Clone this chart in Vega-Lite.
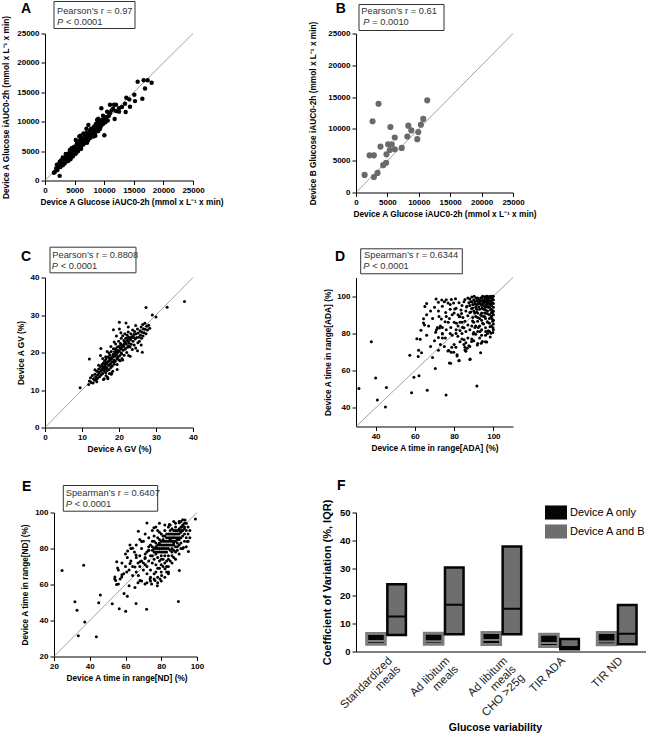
{
"$schema":"https://vega.github.io/schema/vega-lite/v6.json",
"background":"white",
"padding":{"left":1,"top":0.5,"right":0,"bottom":0},
"autosize":{"type":"pad"},
"columns":2,
"bounds":"flush",
"align":"each",
"spacing":{"row":85,"column":159},
"resolve":{"scale":{"fill":"independent","stroke":"independent"},"legend":{"fill":"independent","stroke":"independent"}},
"datasets":{
"A":[{"x":1500,"y":1300},{"x":1700,"y":1500},{"x":1900,"y":2100},{"x":2100,"y":1800},{"x":2300,"y":2500},{"x":2477,"y":788},{"x":2500,"y":3200},{"x":2600,"y":2300},{"x":2800,"y":2700},{"x":2900,"y":3300},{"x":3000,"y":2600},{"x":3100,"y":3000},{"x":3200,"y":3500},{"x":3300,"y":2900},{"x":3400,"y":3800},{"x":3500,"y":3200},{"x":3600,"y":3400},{"x":3700,"y":4200},{"x":3800,"y":3600},{"x":3900,"y":3300},{"x":4000,"y":4100},{"x":4000,"y":4600},{"x":4100,"y":3800},{"x":4200,"y":4400},{"x":4300,"y":3900},{"x":4400,"y":4800},{"x":4500,"y":4200},{"x":4500,"y":5500},{"x":4600,"y":4500},{"x":4700,"y":4100},{"x":4800,"y":5000},{"x":4900,"y":4600},{"x":5000,"y":5300},{"x":5000,"y":4800},{"x":5100,"y":5800},{"x":5200,"y":5000},{"x":5300,"y":4700},{"x":5400,"y":5600},{"x":5500,"y":5200},{"x":5500,"y":6200},{"x":5600,"y":5900},{"x":5700,"y":5400},{"x":5800,"y":7500},{"x":5800,"y":6000},{"x":5900,"y":5500},{"x":6000,"y":6400},{"x":6000,"y":5800},{"x":6100,"y":6800},{"x":6200,"y":6000},{"x":6300,"y":6500},{"x":6400,"y":6100},{"x":6400,"y":7000},{"x":6500,"y":6700},{"x":6600,"y":6300},{"x":6700,"y":7200},{"x":6800,"y":6600},{"x":6900,"y":7000},{"x":7000,"y":7500},{"x":7000,"y":6700},{"x":7100,"y":7100},{"x":7200,"y":7800},{"x":7300,"y":6900},{"x":7400,"y":7400},{"x":7500,"y":7200},{"x":7500,"y":8000},{"x":7600,"y":7700},{"x":7700,"y":7300},{"x":7800,"y":8200},{"x":7900,"y":7600},{"x":8000,"y":8500},{"x":8000,"y":7800},{"x":8100,"y":8000},{"x":8200,"y":8700},{"x":8300,"y":8100},{"x":8400,"y":8400},{"x":8500,"y":9000},{"x":8600,"y":8300},{"x":8700,"y":8800},{"x":8800,"y":9400},{"x":8900,"y":8700},{"x":9000,"y":9100},{"x":9100,"y":9700},{"x":9200,"y":9000},{"x":9300,"y":9500},{"x":9500,"y":9300},{"x":9516,"y":12275},{"x":7320,"y":9459},{"x":10023,"y":7714},{"x":9600,"y":10000},{"x":9800,"y":9600},{"x":10000,"y":10300},{"x":10200,"y":9900},{"x":10400,"y":10800},{"x":10600,"y":10200},{"x":10800,"y":11000},{"x":10980,"y":12894},{"x":11000,"y":11500},{"x":11261,"y":11937},{"x":11655,"y":12894},{"x":11768,"y":10473},{"x":12000,"y":11800},{"x":12500,"y":11712},{"x":12500,"y":12300},{"x":13000,"y":12500},{"x":13514,"y":13063},{"x":13626,"y":11655},{"x":13739,"y":14077},{"x":14245,"y":13795},{"x":14358,"y":12556},{"x":15090,"y":14583},{"x":15200,"y":13500},{"x":15653,"y":16779},{"x":16441,"y":13908},{"x":16667,"y":17060},{"x":16892,"y":15653},{"x":17342,"y":17060},{"x":18018,"y":16610},{"x":3500,"y":4500},{"x":2000,"y":2700},{"x":6500,"y":8000},{"x":5200,"y":6900},{"x":8500,"y":7600},{"x":9000,"y":10500},{"x":4200,"y":5200},{"x":7000,"y":8800},{"x":6000,"y":7600},{"x":9800,"y":11000},{"x":8800,"y":10300},{"x":10500,"y":11700},{"x":11500,"y":12200},{"x":12000,"y":12900},{"x":9000,"y":8400},{"x":5600,"y":5000},{"x":3000,"y":3900},{"x":2700,"y":3400},{"x":3800,"y":4400},{"x":4600,"y":5100},{"x":5400,"y":6300},{"x":6200,"y":7200},{"x":7000,"y":8100},{"x":7800,"y":8800},{"x":8600,"y":9600},{"x":6800,"y":7700},{"x":5800,"y":6700},{"x":4900,"y":5700},{"x":7600,"y":8500},{"x":8300,"y":9200},{"x":9400,"y":10200},{"x":9300,"y":8800},{"x":8200,"y":7500},{"x":7100,"y":6400},{"x":6100,"y":5400},{"x":5100,"y":4500},{"x":4300,"y":3600},{"x":2200,"y":2200},{"x":2400,"y":2900},{"x":2600,"y":2800},{"x":3300,"y":3400},{"x":3600,"y":3900},{"x":3700,"y":3500},{"x":4100,"y":4300},{"x":4400,"y":4300},{"x":4700,"y":4800},{"x":4800,"y":5400},{"x":5100,"y":5200},{"x":5300,"y":5500},{"x":5600,"y":5600},{"x":5700,"y":6100},{"x":6000,"y":6100},{"x":6200,"y":6500},{"x":6300,"y":6100},{"x":6500,"y":6400},{"x":6600,"y":7000},{"x":6900,"y":7400},{"x":7100,"y":7600},{"x":7200,"y":7200},{"x":7400,"y":7900},{"x":7700,"y":7900},{"x":7900,"y":8300},{"x":8100,"y":8400},{"x":8300,"y":8700},{"x":8500,"y":8500},{"x":8700,"y":9200},{"x":9000,"y":9500},{"x":9200,"y":9800},{"x":9400,"y":9700},{"x":9700,"y":10300},{"x":10100,"y":10600},{"x":10300,"y":10200},{"x":3400,"y":3400},{"x":3900,"y":4000},{"x":4300,"y":4600},{"x":5500,"y":5700},{"x":6700,"y":6800},{"x":7300,"y":7300},{"x":8900,"y":9000}],
"B":[{"x":1371,"y":2760},{"x":2162,"y":5839},{"x":2848,"y":5839},{"x":2637,"y":11200},{"x":3586,"y":13960},{"x":2848,"y":2442},{"x":3428,"y":3079},{"x":3903,"y":7219},{"x":4325,"y":4299},{"x":4800,"y":4671},{"x":4852,"y":5998},{"x":5116,"y":7590},{"x":5485,"y":10297},{"x":5380,"y":6688},{"x":5696,"y":7590},{"x":6171,"y":8652},{"x":6171,"y":6794},{"x":7278,"y":7006},{"x":8175,"y":8811},{"x":8333,"y":10509},{"x":8808,"y":9767},{"x":9757,"y":8386},{"x":9916,"y":9501},{"x":10338,"y":10669},{"x":10707,"y":11571},{"x":11340,"y":14490}],
"C":[{"x":9.5,"y":10.6},{"x":12.0,"y":18.3},{"x":37.7,"y":33.6},{"x":33.0,"y":32.1},{"x":27.3,"y":32.0},{"x":30.0,"y":29.5},{"x":29.0,"y":30.0},{"x":20.1,"y":28.1},{"x":21.9,"y":27.9},{"x":18.5,"y":26.1},{"x":20.1,"y":26.3},{"x":26.3,"y":20.1},{"x":15.1,"y":21.1},{"x":15.0,"y":19.2},{"x":17.9,"y":14.2},{"x":11.8,"y":11.5},{"x":12.0,"y":12.4},{"x":12.3,"y":13.3},{"x":12.5,"y":12.0},{"x":12.8,"y":13.9},{"x":13.0,"y":11.9},{"x":13.1,"y":13.0},{"x":13.4,"y":12.6},{"x":13.5,"y":14.2},{"x":13.7,"y":13.5},{"x":13.9,"y":12.9},{"x":14.0,"y":15.0},{"x":14.2,"y":14.0},{"x":14.3,"y":13.2},{"x":14.5,"y":15.6},{"x":14.6,"y":14.5},{"x":14.8,"y":13.6},{"x":15.0,"y":16.2},{"x":15.1,"y":15.0},{"x":15.2,"y":14.1},{"x":15.4,"y":16.8},{"x":15.5,"y":15.5},{"x":15.6,"y":14.4},{"x":15.8,"y":17.2},{"x":15.9,"y":16.0},{"x":16.0,"y":15.1},{"x":16.0,"y":13.0},{"x":16.1,"y":17.8},{"x":16.2,"y":16.5},{"x":16.3,"y":15.6},{"x":16.4,"y":14.6},{"x":16.5,"y":18.3},{"x":16.6,"y":17.1},{"x":16.7,"y":16.0},{"x":16.8,"y":15.2},{"x":16.9,"y":13.4},{"x":17.0,"y":18.8},{"x":17.1,"y":17.6},{"x":17.2,"y":16.6},{"x":17.3,"y":15.5},{"x":17.4,"y":14.4},{"x":17.5,"y":19.3},{"x":17.6,"y":18.1},{"x":17.7,"y":17.0},{"x":17.8,"y":16.0},{"x":17.9,"y":20.3},{"x":18.0,"y":18.6},{"x":18.1,"y":17.5},{"x":18.2,"y":16.4},{"x":18.3,"y":15.0},{"x":18.4,"y":19.5},{"x":18.5,"y":21.0},{"x":18.6,"y":18.0},{"x":18.7,"y":16.9},{"x":18.8,"y":20.2},{"x":18.9,"y":19.0},{"x":19.0,"y":17.7},{"x":19.1,"y":22.3},{"x":19.2,"y":20.8},{"x":19.3,"y":19.4},{"x":19.4,"y":18.3},{"x":19.5,"y":16.8},{"x":19.6,"y":21.5},{"x":19.7,"y":20.1},{"x":19.8,"y":18.9},{"x":19.9,"y":23.0},{"x":20.0,"y":21.6},{"x":20.1,"y":20.4},{"x":20.2,"y":19.2},{"x":20.3,"y":17.8},{"x":20.4,"y":22.4},{"x":20.5,"y":21.0},{"x":20.6,"y":23.8},{"x":20.7,"y":19.7},{"x":20.8,"y":18.4},{"x":20.9,"y":22.0},{"x":21.0,"y":24.5},{"x":21.1,"y":20.6},{"x":21.2,"y":21.7},{"x":21.3,"y":23.2},{"x":21.4,"y":19.3},{"x":21.5,"y":22.5},{"x":21.6,"y":25.0},{"x":21.7,"y":21.1},{"x":21.8,"y":23.8},{"x":22.0,"y":22.3},{"x":22.1,"y":20.0},{"x":22.2,"y":24.6},{"x":22.3,"y":21.4},{"x":22.4,"y":23.1},{"x":22.5,"y":25.5},{"x":22.6,"y":19.2},{"x":22.7,"y":22.6},{"x":22.8,"y":24.0},{"x":23.0,"y":21.5},{"x":23.1,"y":23.4},{"x":23.2,"y":25.0},{"x":23.3,"y":22.2},{"x":23.5,"y":24.3},{"x":23.6,"y":20.8},{"x":23.7,"y":26.0},{"x":23.8,"y":23.0},{"x":24.0,"y":24.8},{"x":24.1,"y":22.0},{"x":24.2,"y":25.6},{"x":24.4,"y":23.6},{"x":24.5,"y":21.2},{"x":24.6,"y":25.0},{"x":24.8,"y":24.0},{"x":25.0,"y":26.3},{"x":25.1,"y":22.6},{"x":25.2,"y":25.2},{"x":25.4,"y":24.1},{"x":25.5,"y":23.0},{"x":25.7,"y":25.8},{"x":25.8,"y":24.6},{"x":26.0,"y":26.8},{"x":26.1,"y":23.8},{"x":26.2,"y":25.4},{"x":26.4,"y":27.5},{"x":26.5,"y":24.4},{"x":26.6,"y":26.3},{"x":26.8,"y":25.3},{"x":27.0,"y":27.8},{"x":27.1,"y":26.2},{"x":27.3,"y":25.0},{"x":27.5,"y":27.0},{"x":27.7,"y":26.0},{"x":28.0,"y":27.3},{"x":28.3,"y":26.5},{"x":16.4,"y":18.9},{"x":17.3,"y":19.9},{"x":19.0,"y":21.0},{"x":20.0,"y":18.0},{"x":18.0,"y":14.5},{"x":17.0,"y":13.0},{"x":16.5,"y":13.8},{"x":15.8,"y":12.8},{"x":14.0,"y":12.2},{"x":19.5,"y":15.5},{"x":21.0,"y":18.0},{"x":23.0,"y":19.0},{"x":25.0,"y":20.5},{"x":24.5,"y":27.2},{"x":22.5,"y":26.8},{"x":18.7,"y":22.8},{"x":17.8,"y":21.6},{"x":16.8,"y":20.3},{"x":15.6,"y":18.4},{"x":14.5,"y":16.6},{"x":13.5,"y":15.4},{"x":20.5,"y":25.3},{"x":19.3,"y":24.4},{"x":26.0,"y":22.0},{"x":14.5,"y":14.8},{"x":15.2,"y":15.5},{"x":15.8,"y":15.8},{"x":16.3,"y":16.9},{"x":16.9,"y":17.4},{"x":17.4,"y":17.9},{"x":17.9,"y":18.3},{"x":18.3,"y":18.9},{"x":18.8,"y":19.4},{"x":19.2,"y":19.9},{"x":19.8,"y":20.5},{"x":20.3,"y":21.2},{"x":20.8,"y":21.5},{"x":21.3,"y":22.1},{"x":21.8,"y":22.6},{"x":22.3,"y":23.3},{"x":22.9,"y":23.8},{"x":23.4,"y":24.0},{"x":24.0,"y":24.0},{"x":16.6,"y":15.9},{"x":17.6,"y":16.6},{"x":18.6,"y":17.4},{"x":19.6,"y":18.6},{"x":20.6,"y":19.9},{"x":21.6,"y":20.9},{"x":22.6,"y":21.8},{"x":15.5,"y":16.5},{"x":16.5,"y":17.5},{"x":17.5,"y":18.5},{"x":18.5,"y":19.5},{"x":19.5,"y":20.5},{"x":20.5,"y":22.0},{"x":21.5,"y":23.0},{"x":22.5,"y":24.0}],
"D":[{"x":31.5,"y":50.4},{"x":37.8,"y":75.5},{"x":40.0,"y":56.0},{"x":40.9,"y":44.2},{"x":45.0,"y":40.5},{"x":45.5,"y":50.9},{"x":57.4,"y":68.3},{"x":59.5,"y":56.5},{"x":58.3,"y":48.1},{"x":62.1,"y":57.2},{"x":61.7,"y":67.6},{"x":63.4,"y":69.6},{"x":61.0,"y":77.1},{"x":62.7,"y":76.8},{"x":63.1,"y":81.7},{"x":64.4,"y":85.6},{"x":64.4,"y":87.9},{"x":65.1,"y":94.4},{"x":66.3,"y":49.5},{"x":70.4,"y":61.1},{"x":72.0,"y":71.0},{"x":70.8,"y":98.4},{"x":72.0,"y":96.7},{"x":73.7,"y":97.9},{"x":75.9,"y":46.9},{"x":91.6,"y":51.8},{"x":77.6,"y":64.1},{"x":76.8,"y":70.6},{"x":78.5,"y":69.9},{"x":81.5,"y":68.5},{"x":82.4,"y":65.3},{"x":88.2,"y":66.2},{"x":85.5,"y":71.1},{"x":86.7,"y":72.0},{"x":87.5,"y":73.3},{"x":93.5,"y":69.6},{"x":95.9,"y":75.5},{"x":93.8,"y":74.7},{"x":91.8,"y":73.8},{"x":64.9,"y":84.5},{"x":61.9,"y":71.0},{"x":72.3,"y":89.1},{"x":71.5,"y":83.1},{"x":70.6,"y":80.6},{"x":72.5,"y":82.9},{"x":73.5,"y":87.7},{"x":74.0,"y":83.1},{"x":72.0,"y":77.8},{"x":74.0,"y":77.5},{"x":75.4,"y":86.3},{"x":75.7,"y":91.2},{"x":76.9,"y":96.3},{"x":77.6,"y":88.0},{"x":78.3,"y":83.1},{"x":78.6,"y":98.2},{"x":79.7,"y":96.3},{"x":80.3,"y":93.1},{"x":80.7,"y":98.6},{"x":77.3,"y":70.8},{"x":79.8,"y":69.9},{"x":78.2,"y":63.9},{"x":74.0,"y":79.6},{"x":75.5,"y":77.5},{"x":81.5,"y":67.8},{"x":82.6,"y":65.5},{"x":80.9,"y":72.6},{"x":78.8,"y":72.6},{"x":81.9,"y":78.4},{"x":81.2,"y":85.4},{"x":82.6,"y":88.9},{"x":83.8,"y":90.7},{"x":84.3,"y":83.1},{"x":85.1,"y":76.6},{"x":85.5,"y":72.6},{"x":86.0,"y":70.4},{"x":88.0,"y":66.0},{"x":88.9,"y":75.7},{"x":89.7,"y":79.6},{"x":90.6,"y":83.1},{"x":89.4,"y":86.6},{"x":88.0,"y":91.2},{"x":86.3,"y":94.2},{"x":85.5,"y":98.2},{"x":88.9,"y":93.3},{"x":94.4,"y":75.7},{"x":96.6,"y":75.4},{"x":96.1,"y":81.0},{"x":97.4,"y":81.4},{"x":98.8,"y":80.1},{"x":98.3,"y":83.6},{"x":93.2,"y":81.0},{"x":92.3,"y":83.1},{"x":94.5,"y":85.4},{"x":96.9,"y":86.3},{"x":99.3,"y":88.0},{"x":99.7,"y":91.5},{"x":95.7,"y":88.9},{"x":88,"y":95},{"x":89,"y":97},{"x":90,"y":92},{"x":90,"y":98},{"x":91,"y":94},{"x":91,"y":89},{"x":92,"y":96},{"x":92,"y":99},{"x":92,"y":91},{"x":93,"y":93},{"x":93,"y":97},{"x":93,"y":88},{"x":94,"y":95},{"x":94,"y":99},{"x":94,"y":91},{"x":95,"y":96},{"x":95,"y":93},{"x":95,"y":98},{"x":95,"y":89},{"x":96,"y":94},{"x":96,"y":97},{"x":96,"y":99},{"x":96,"y":91},{"x":97,"y":95},{"x":97,"y":98},{"x":97,"y":92},{"x":97,"y":100},{"x":98,"y":96},{"x":98,"y":94},{"x":98,"y":99},{"x":98,"y":90},{"x":99,"y":97},{"x":99,"y":95},{"x":99,"y":99},{"x":99,"y":93},{"x":100,"y":100},{"x":100,"y":98},{"x":100,"y":96},{"x":100,"y":94},{"x":100,"y":92},{"x":100,"y":90},{"x":100,"y":87},{"x":100,"y":85},{"x":100,"y":82},{"x":99.5,"y":100},{"x":98.5,"y":100},{"x":97.5,"y":99.5},{"x":96.5,"y":100},{"x":95.5,"y":99.6},{"x":94.5,"y":97.2},{"x":93.5,"y":95.8},{"x":92.5,"y":94.3},{"x":91.5,"y":97.5},{"x":90.5,"y":95.6},{"x":89.5,"y":93.6},{"x":88.5,"y":91.5},{"x":87.5,"y":96.5},{"x":86.5,"y":94.6},{"x":87,"y":89.5},{"x":86,"y":92},{"x":85,"y":97},{"x":84,"y":95},{"x":85.5,"y":86.5},{"x":84.5,"y":88.5},{"x":83.5,"y":92.5},{"x":82.5,"y":96.5},{"x":83,"y":86},{"x":82,"y":90},{"x":81,"y":93.5},{"x":90,"y":86},{"x":91,"y":84},{"x":92,"y":86.5},{"x":93,"y":84},{"x":94,"y":87},{"x":95,"y":85},{"x":96,"y":88},{"x":97,"y":86},{"x":98,"y":85.5},{"x":99,"y":89},{"x":89,"y":84},{"x":88,"y":82},{"x":87,"y":84.5},{"x":86,"y":81},{"x":85,"y":83},{"x":84,"y":80},{"x":83,"y":81.5},{"x":90,"y":80.5},{"x":92,"y":81},{"x":94,"y":82},{"x":96,"y":83},{"x":97,"y":80},{"x":98,"y":81},{"x":99,"y":84},{"x":89.5,"y":88.5},{"x":91.5,"y":91.5},{"x":93.5,"y":90},{"x":95.5,"y":91},{"x":97.5,"y":94},{"x":98.5,"y":92.5},{"x":99.5,"y":91.5},{"x":96.8,"y":96.3},{"x":97.2,"y":97.6},{"x":95.2,"y":97},{"x":94.2,"y":93.5},{"x":92.8,"y":97.8},{"x":91.2,"y":99},{"x":90.2,"y":100},{"x":89,"y":99.5},{"x":88,"y":98.5},{"x":87,"y":99},{"x":99.6,"y":86.5},{"x":99.8,"y":83},{"x":99.7,"y":80.5},{"x":98.4,"y":78},{"x":96,"y":79},{"x":94,"y":79},{"x":93,"y":77.5},{"x":92,"y":74.5},{"x":90,"y":76},{"x":89,"y":77},{"x":91,"y":79.5},{"x":88,"y":73},{"x":87,"y":77.5},{"x":86,"y":75},{"x":85,"y":74},{"x":84,"y":77},{"x":83,"y":75.5},{"x":80,"y":74},{"x":79,"y":79},{"x":81,"y":82},{"x":80,"y":86},{"x":79,"y":90},{"x":78,"y":93},{"x":77,"y":86},{"x":76,"y":82},{"x":82,"y":84},{"x":81,"y":80},{"x":78,"y":80},{"x":76,"y":89},{"x":84,"y":86},{"x":83,"y":89},{"x":80,"y":91},{"x":78,"y":95.5},{"x":75,"y":97},{"x":74,"y":94.5},{"x":76,"y":98},{"x":71,"y":82},{"x":69,"y":88},{"x":68,"y":92},{"x":67,"y":84},{"x":66,"y":79},{"x":68,"y":73},{"x":70,"y":76},{"x":73,"y":84},{"x":74,"y":80},{"x":73,"y":74},{"x":75,"y":73},{"x":69,"y":67},{"x":66,"y":96},{"x":70,"y":94},{"x":72,"y":92},{"x":66,"y":90},{"x":90.5,"y":97},{"x":91.5,"y":95.5},{"x":92.5,"y":98},{"x":93.5,"y":99},{"x":94.5,"y":96},{"x":95.5,"y":94.5},{"x":96.5,"y":95.5},{"x":97.5,"y":96.5},{"x":98.5,"y":97.5},{"x":99.5,"y":98.5},{"x":99.5,"y":96.5},{"x":98.5,"y":95.5},{"x":97.5,"y":97.5},{"x":96.5,"y":98.5},{"x":95.5,"y":97.5},{"x":94.5,"y":100},{"x":93.5,"y":97.5},{"x":92.5,"y":96},{"x":91.5,"y":93},{"x":90.5,"y":91},{"x":89.5,"y":95.5},{"x":88.5,"y":97},{"x":97,"y":90.5},{"x":98,"y":88},{"x":99,"y":91},{"x":96,"y":92.5},{"x":94,"y":89.5},{"x":92,"y":88.5}],
"E":[{"x":24.5,"y":67.8},{"x":36.6,"y":70.7},{"x":31.7,"y":50.4},{"x":32.9,"y":45.7},{"x":37.2,"y":39.1},{"x":33.6,"y":31.5},{"x":43.7,"y":31.0},{"x":45.9,"y":54.2},{"x":45.0,"y":49.9},{"x":52.6,"y":49.3},{"x":56.5,"y":46.5},{"x":60.1,"y":45.2},{"x":59.2,"y":55.0},{"x":61.0,"y":53.5},{"x":65.9,"y":49.5},{"x":71.8,"y":46.3},{"x":89.6,"y":50.6},{"x":90.1,"y":67.8},{"x":99.1,"y":96.4},{"x":72.0,"y":94.1},{"x":95.2,"y":78.3},{"x":67.2,"y":89.6},{"x":54.1,"y":64.1},{"x":55.1,"y":72.6},{"x":62.5,"y":82.0},{"x":64.0,"y":80.1},{"x":75.9,"y":91.5},{"x":84.5,"y":93.4},{"x":90.1,"y":94.3},{"x":93.3,"y":95.8},{"x":91.4,"y":91.9},{"x":92.4,"y":80.5},{"x":94.6,"y":83.9},{"x":61.2,"y":78.6},{"x":65.9,"y":76.4},{"x":69.0,"y":83.9},{"x":70.9,"y":74.5},{"x":68.1,"y":72.6},{"x":65.3,"y":69.7},{"x":62.5,"y":71.6},{"x":60.7,"y":66.9},{"x":58.0,"y":65.4},{"x":55.6,"y":69.2},{"x":54.5,"y":62.2},{"x":56.0,"y":60.3},{"x":57.9,"y":64.1},{"x":62.0,"y":59.3},{"x":65.3,"y":58.4},{"x":67.2,"y":65.0},{"x":68.1,"y":62.2},{"x":70.9,"y":60.3},{"x":73.7,"y":63.1},{"x":74.6,"y":60.3},{"x":76.5,"y":62.2},{"x":79.3,"y":63.1},{"x":77.8,"y":59.3},{"x":80.2,"y":65.0},{"x":82.1,"y":68.8},{"x":84.0,"y":66.9},{"x":70,"y":72},{"x":71,"y":75},{"x":72,"y":70},{"x":72,"y":78},{"x":73,"y":73},{"x":73,"y":81},{"x":74,"y":76},{"x":74,"y":68},{"x":75,"y":79},{"x":75,"y":72},{"x":75,"y":84},{"x":76,"y":74},{"x":76,"y":80},{"x":76,"y":87},{"x":77,"y":77},{"x":77,"y":71},{"x":77,"y":83},{"x":78,"y":75},{"x":78,"y":80},{"x":78,"y":86},{"x":78,"y":69},{"x":79,"y":78},{"x":79,"y":82},{"x":79,"y":73},{"x":79,"y":89},{"x":80,"y":76},{"x":80,"y":80},{"x":80,"y":84},{"x":80,"y":71},{"x":81,"y":78},{"x":81,"y":82},{"x":81,"y":87},{"x":81,"y":74},{"x":82,"y":80},{"x":82,"y":84},{"x":82,"y":76},{"x":82,"y":90},{"x":83,"y":78},{"x":83,"y":82},{"x":83,"y":86},{"x":83,"y":73},{"x":84,"y":80},{"x":84,"y":84},{"x":84,"y":88},{"x":84,"y":76},{"x":85,"y":82},{"x":85,"y":86},{"x":85,"y":79},{"x":85,"y":90},{"x":86,"y":80},{"x":86,"y":84},{"x":86,"y":88},{"x":86,"y":76},{"x":87,"y":82},{"x":87,"y":86},{"x":87,"y":90},{"x":87,"y":79},{"x":88,"y":84},{"x":88,"y":88},{"x":88,"y":81},{"x":88,"y":92},{"x":89,"y":86},{"x":89,"y":90},{"x":89,"y":83},{"x":90,"y":88},{"x":90,"y":91},{"x":90,"y":85},{"x":91,"y":89},{"x":91,"y":92},{"x":91,"y":86},{"x":92,"y":90},{"x":92,"y":93},{"x":92,"y":87},{"x":93,"y":91},{"x":93,"y":88},{"x":93,"y":94},{"x":94,"y":90},{"x":94,"y":86},{"x":95,"y":92},{"x":95,"y":88},{"x":84,"y":70},{"x":86,"y":72},{"x":88,"y":74},{"x":90,"y":77},{"x":92,"y":80},{"x":83,"y":67},{"x":80,"y":67},{"x":78,"y":64},{"x":76,"y":66},{"x":74,"y":64},{"x":72,"y":66},{"x":70,"y":68},{"x":68,"y":70},{"x":68,"y":76},{"x":69,"y":80},{"x":70,"y":84},{"x":71,"y":88},{"x":73,"y":86},{"x":75,"y":90},{"x":77,"y":92},{"x":79,"y":94},{"x":82,"y":93},{"x":85,"y":93},{"x":87,"y":95},{"x":74,"y":82},{"x":76,"y":84},{"x":78,"y":90},{"x":80,"y":88},{"x":82,"y":87},{"x":79,"y":85},{"x":77,"y":80},{"x":75,"y":76},{"x":73,"y":79},{"x":71,"y":71},{"x":80,"y":74},{"x":82,"y":72},{"x":84,"y":74},{"x":86,"y":78},{"x":88,"y":78},{"x":90,"y":82},{"x":91,"y":80},{"x":89,"y":79},{"x":87,"y":75},{"x":85,"y":73},{"x":83,"y":70},{"x":81,"y":70},{"x":79,"y":69},{"x":77,"y":67},{"x":84,"y":92},{"x":86,"y":91},{"x":88,"y":94},{"x":90,"y":95},{"x":92,"y":96},{"x":93,"y":92},{"x":94,"y":94},{"x":91,"y":95},{"x":96,"y":90},{"x":96,"y":86},{"x":94,"y":81},{"x":93,"y":84},{"x":95,"y":84},{"x":91,"y":83},{"x":89,"y":81},{"x":87,"y":83},{"x":85,"y":85},{"x":83,"y":84},{"x":81,"y":84},{"x":79,"y":80},{"x":77,"y":78},{"x":75,"y":81},{"x":73,"y":79},{"x":71,"y":77},{"x":69,"y":73},{"x":67,"y":72},{"x":66,"y":75},{"x":65,"y":78},{"x":64,"y":70},{"x":63,"y":73},{"x":62,"y":68},{"x":61,"y":75},{"x":60,"y":70},{"x":59,"y":66},{"x":58,"y":72},{"x":57,"y":63},{"x":56,"y":68},{"x":55,"y":60},{"x":54,"y":63},{"x":60,"y":77},{"x":63,"y":80},{"x":66,"y":82},{"x":68,"y":85},{"x":64,"y":65},{"x":66,"y":67},{"x":67,"y":61},{"x":69,"y":62},{"x":72,"y":61},{"x":74,"y":62},{"x":76,"y":63},{"x":78,"y":61},{"x":80,"y":62},{"x":82,"y":64},{"x":84,"y":66},{"x":76,"y":78},{"x":77,"y":81},{"x":78,"y":78},{"x":79,"y":83},{"x":80,"y":78},{"x":81,"y":80},{"x":82,"y":82},{"x":83,"y":80},{"x":84,"y":82},{"x":85,"y":84},{"x":86,"y":82},{"x":87,"y":88},{"x":88,"y":86},{"x":89,"y":88},{"x":90,"y":90},{"x":91,"y":90},{"x":80,"y":82},{"x":82,"y":78},{"x":84,"y":86},{"x":86,"y":86},{"x":88,"y":90},{"x":90,"y":86},{"x":78,"y":82},{"x":81,"y":85},{"x":83,"y":88},{"x":85,"y":88},{"x":87,"y":84},{"x":89,"y":85}],
"F":[{"cat":"Standardized|meals","grp":"Device A only","q1":2.6,"med":3.8,"q3":6.5},{"cat":"Standardized|meals","grp":"Device A and B","q1":5.9,"med":12.6,"q3":24.2},{"cat":"Ad libitum|meals","grp":"Device A only","q1":2.6,"med":3.7,"q3":6.6},{"cat":"Ad libitum|meals","grp":"Device A and B","q1":6.2,"med":16.8,"q3":30.2},{"cat":"Ad libitum|meals|CHO >25g","grp":"Device A only","q1":2.5,"med":4.1,"q3":6.8},{"cat":"Ad libitum|meals|CHO >25g","grp":"Device A and B","q1":6.2,"med":15.4,"q3":37.8},{"cat":"TIR ADA","grp":"Device A only","q1":1.8,"med":3.1,"q3":6.2},{"cat":"TIR ADA","grp":"Device A and B","q1":0.8,"med":1.6,"q3":4.5},{"cat":"TIR ND","grp":"Device A only","q1":2.4,"med":3.6,"q3":6.8},{"cat":"TIR ND","grp":"Device A and B","q1":2.6,"med":6.4,"q3":16.7}]
},
"concat":[
{"width":148,"height":147,
"layer":[
{"data":{"values":[{}]},"mark":{"type":"rule","color":"#8a8a8a","strokeWidth":0.8},"encoding":{"x":{"datum":0},"y":{"datum":0},"x2":{"datum":25000},"y2":{"datum":25000}}},
{"data":{"name":"A"},"mark":{"type":"circle","size":20,"color":"#000","opacity":1},"encoding":{"x":{"field":"x","type":"quantitative","scale":{"domain":[0,25000],"nice":false,"zero":false},"axis":{"values":[0,5000,10000,15000,20000,25000],"tickCount":20,"format":"d","labelOverlap":false,"title":"Device A Glucose iAUC0-2h (mmol x L⁻¹ x min)","titleX":86.5}},"y":{"field":"y","type":"quantitative","scale":{"domain":[0,25000],"nice":false,"zero":false},"axis":{"values":[0,5000,10000,15000,20000,25000],"tickCount":20,"format":"d","labelOverlap":false,"title":"Device A Glucose iAUC0-2h (mmol x L⁻¹ x min)","titleX":-38.5,"titleBaseline":"middle"}}}},
{"data":{"values":[{}]},"mark":{"type":"rect","fillOpacity":0,"stroke":"#333","strokeWidth":1},"encoding":{"x":{"datum":1520},"x2":{"datum":15203},"y":{"datum":30443},"y2":{"datum":25851}}},
{"data":{"values":[{}]},"mark":{"type":"text","text":"A","align":"left","baseline":"alphabetic","fontSize":14,"fontWeight":"bold","color":"#000"},"encoding":{"x":{"datum":-4054},"y":{"datum":28452}}},
{"data":{"values":[{}]},"mark":{"type":"text","text":"Pearson’s r = 0.97","align":"left","baseline":"alphabetic","fontSize":9.3,"color":"#333"},"encoding":{"x":{"datum":2027},"y":{"datum":28351}}},
{"data":{"values":[{}]},"mark":{"type":"text","text":"P","fontStyle":"italic","align":"left","baseline":"alphabetic","fontSize":9.3,"color":"#333"},"encoding":{"x":{"datum":2027},"y":{"datum":26480}}},
{"data":{"values":[{}]},"mark":{"type":"text","text":"< 0.0001","dx":9,"align":"left","baseline":"alphabetic","fontSize":9.3,"color":"#333"},"encoding":{"x":{"datum":2027},"y":{"datum":26480}}}
]},
{"width":157,"height":159,
"layer":[
{"data":{"values":[{}]},"mark":{"type":"rule","color":"#8a8a8a","strokeWidth":0.8},"encoding":{"x":{"datum":0},"y":{"datum":0},"x2":{"datum":25000},"y2":{"datum":25000}}},
{"data":{"name":"B"},"mark":{"type":"circle","size":38,"color":"#6a6a6a","opacity":1},"encoding":{"x":{"field":"x","type":"quantitative","scale":{"domain":[0,25000],"nice":false,"zero":false},"axis":{"values":[0,5000,10000,15000,20000,25000],"tickCount":20,"format":"d","labelOverlap":false,"title":"Device A Glucose iAUC0-2h (mmol x L⁻¹ x min)","titleX":88.5}},"y":{"field":"y","type":"quantitative","scale":{"domain":[0,25000],"nice":false,"zero":false},"axis":{"values":[0,5000,10000,15000,20000,25000],"tickCount":20,"format":"d","labelOverlap":false,"title":"Device B Glucose iAUC0-2h (mmol x L⁻¹ x min)","titleX":-43,"titleBaseline":"middle"}}}},
{"data":{"values":[{}]},"mark":{"type":"rect","fillOpacity":0,"stroke":"#333","strokeWidth":1},"encoding":{"x":{"datum":478},"x2":{"datum":14013},"y":{"datum":29559},"y2":{"datum":25471}}},
{"data":{"values":[{}]},"mark":{"type":"text","text":"B","align":"left","baseline":"alphabetic","fontSize":14,"fontWeight":"bold","color":"#000"},"encoding":{"x":{"datum":-3233},"y":{"datum":28191}}},
{"data":{"values":[{}]},"mark":{"type":"text","text":"Pearson’s r = 0.61","align":"left","baseline":"alphabetic","fontSize":9.3,"color":"#333"},"encoding":{"x":{"datum":844},"y":{"datum":28097}}},
{"data":{"values":[{}]},"mark":{"type":"text","text":"P","fontStyle":"italic","align":"left","baseline":"alphabetic","fontSize":9.3,"color":"#333"},"encoding":{"x":{"datum":1162},"y":{"datum":26367}}},
{"data":{"values":[{}]},"mark":{"type":"text","text":"= 0.0010","dx":9,"align":"left","baseline":"alphabetic","fontSize":9.3,"color":"#333"},"encoding":{"x":{"datum":1162},"y":{"datum":26367}}}
]},
{"width":148,"height":150,
"layer":[
{"data":{"values":[{}]},"mark":{"type":"rule","color":"#8a8a8a","strokeWidth":0.8},"encoding":{"x":{"datum":0},"y":{"datum":0},"x2":{"datum":40},"y2":{"datum":40}}},
{"data":{"name":"C"},"mark":{"type":"circle","size":9,"color":"#000","opacity":1},"encoding":{"x":{"field":"x","type":"quantitative","scale":{"domain":[0,40],"nice":false,"zero":false},"axis":{"values":[0,10,20,30,40],"tickCount":20,"labelOverlap":false,"title":"Device A GV (%)"}},"y":{"field":"y","type":"quantitative","scale":{"domain":[0,40],"nice":false,"zero":false},"axis":{"values":[0,10,20,30,40],"tickCount":20,"labelOverlap":false,"title":"Device A GV (%)","titleX":-23.5,"titleBaseline":"middle"}}}},
{"data":{"values":[{}]},"mark":{"type":"rect","fillOpacity":0,"stroke":"#333","strokeWidth":1},"encoding":{"x":{"datum":1.35},"x2":{"datum":24.59},"y":{"datum":48.08},"y2":{"datum":41.25}}},
{"data":{"values":[{}]},"mark":{"type":"text","text":"C","align":"left","baseline":"alphabetic","fontSize":14,"fontWeight":"bold","color":"#000"},"encoding":{"x":{"datum":-6.49},"y":{"datum":44.35}}},
{"data":{"values":[{}]},"mark":{"type":"text","text":"Pearson’s r = 0.8808","align":"left","baseline":"alphabetic","fontSize":9.3,"color":"#333"},"encoding":{"x":{"datum":1.97},"y":{"datum":45.25}}},
{"data":{"values":[{}]},"mark":{"type":"text","text":"P","fontStyle":"italic","align":"left","baseline":"alphabetic","fontSize":9.3,"color":"#333"},"encoding":{"x":{"datum":1.81},"y":{"datum":42.32}}},
{"data":{"values":[{}]},"mark":{"type":"text","text":"< 0.0001","dx":9,"align":"left","baseline":"alphabetic","fontSize":9.3,"color":"#333"},"encoding":{"x":{"datum":1.81},"y":{"datum":42.32}}}
]},
{"width":157,"height":149,
"layer":[
{"data":{"values":[{}]},"mark":{"type":"rule","color":"#8a8a8a","strokeWidth":0.8},"encoding":{"x":{"datum":30},"y":{"datum":30},"x2":{"datum":110},"y2":{"datum":110}}},
{"data":{"name":"D"},"mark":{"type":"circle","size":9,"color":"#000","opacity":1},"encoding":{"x":{"field":"x","type":"quantitative","scale":{"domain":[30,110],"nice":false,"zero":false},"axis":{"values":[40,60,80,100],"tickCount":20,"labelOverlap":false,"title":"Device A time in range[ADA] (%)"}},"y":{"field":"y","type":"quantitative","scale":{"domain":[30,110],"nice":false,"zero":false},"axis":{"values":[40,60,80,100],"tickCount":20,"labelOverlap":false,"title":"Device A time in range[ADA] (%)","titleX":-28,"titleBaseline":"middle"}}}},
{"data":{"values":[{}]},"mark":{"type":"rect","fillOpacity":0,"stroke":"#333","strokeWidth":1},"encoding":{"x":{"datum":32.39},"x2":{"datum":84.17},"y":{"datum":125.41},"y2":{"datum":111.99}}},
{"data":{"values":[{}]},"mark":{"type":"text","text":"D","align":"left","baseline":"alphabetic","fontSize":14,"fontWeight":"bold","color":"#000"},"encoding":{"x":{"datum":19.3},"y":{"datum":118.75}}},
{"data":{"values":[{}]},"mark":{"type":"text","text":"Spearman’s r = 0.6344","align":"left","baseline":"alphabetic","fontSize":9.3,"color":"#333"},"encoding":{"x":{"datum":34.08},"y":{"datum":120.58}}},
{"data":{"values":[{}]},"mark":{"type":"text","text":"P","fontStyle":"italic","align":"left","baseline":"alphabetic","fontSize":9.3,"color":"#333"},"encoding":{"x":{"datum":33.72},"y":{"datum":114.67}}},
{"data":{"values":[{}]},"mark":{"type":"text","text":"< 0.0001","dx":9,"align":"left","baseline":"alphabetic","fontSize":9.3,"color":"#333"},"encoding":{"x":{"datum":33.72},"y":{"datum":114.67}}}
]},
{"width":152,"height":144,
"layer":[
{"data":{"values":[{}]},"mark":{"type":"rule","color":"#8a8a8a","strokeWidth":0.8},"encoding":{"x":{"datum":20},"y":{"datum":20},"x2":{"datum":100},"y2":{"datum":100}}},
{"data":{"name":"E"},"mark":{"type":"circle","size":9,"color":"#000","opacity":1},"encoding":{"x":{"field":"x","type":"quantitative","scale":{"domain":[20,100],"range":[9,152],"nice":false,"zero":false},"axis":{"values":[20,40,60,80,100],"tickCount":20,"labelOverlap":false,"title":"Device A time in range[ND] (%)","titleX":81.5}},"y":{"field":"y","type":"quantitative","scale":{"domain":[20,100],"nice":false,"zero":false},"axis":{"values":[20,40,60,80,100],"tickCount":20,"labelOverlap":false,"offset":-9,"title":"Device A time in range[ND] (%)","titleX":-29,"titleBaseline":"middle"}}}},
{"data":{"values":[{}]},"mark":{"type":"rect","fillOpacity":0,"stroke":"#333","strokeWidth":1},"encoding":{"x":{"datum":25.2},"x2":{"datum":78.0},"y":{"datum":115.0},"y2":{"datum":100.72}}},
{"data":{"values":[{}]},"mark":{"type":"text","text":"E","align":"left","baseline":"alphabetic","fontSize":14,"fontWeight":"bold","color":"#000"},"encoding":{"x":{"datum":2.1},"y":{"datum":112.2}}},
{"data":{"values":[{}]},"mark":{"type":"text","text":"Spearman’s r = 0.6407","align":"left","baseline":"alphabetic","fontSize":9.3,"color":"#333"},"encoding":{"x":{"datum":26.55},"y":{"datum":109.44}}},
{"data":{"values":[{}]},"mark":{"type":"text","text":"P","fontStyle":"italic","align":"left","baseline":"alphabetic","fontSize":9.3,"color":"#333"},"encoding":{"x":{"datum":26.55},"y":{"datum":103.33}}},
{"data":{"values":[{}]},"mark":{"type":"text","text":"< 0.0001","dx":9,"align":"left","baseline":"alphabetic","fontSize":9.3,"color":"#333"},"encoding":{"x":{"datum":26.55},"y":{"datum":103.33}}}
]},
{"width":290,"height":139,"title":{"text":"F","dx":-19,"offset":6},
"data":{"name":"F"},
"encoding":{
"x":{"field":"cat","type":"nominal","sort":null,"scale":{"domain":["Standardized|meals","Ad libitum|meals","Ad libitum|meals|CHO >25g","TIR ADA","TIR ND"],"paddingInner":0.32,"paddingOuter":0.175,"align":0.53},"axis":{"title":"Glucose variability","ticks":false,"labelAngle":-45,"labelAlign":"right","labelBaseline":"top","labelPadding":3,"labelFontSize":11.5,"labelFontWeight":"normal","labelLineHeight":12,"labelColor":"#222","labelExpr":"split(datum.label, '|')","titleFontSize":10.5,"titleX":139,"titleY":79,"titleBaseline":"alphabetic"}},
"xOffset":{"field":"grp","type":"nominal","scale":{"domain":["Device A only","Device A and B"],"paddingInner":0.1,"paddingOuter":0}}
},
"layer":[
{"mark":{"type":"bar"},"encoding":{
"y":{"field":"q1","type":"quantitative","scale":{"domain":[0,50],"nice":false},"axis":{"values":[0,10,20,30,40,50],"tickCount":20,"labelOverlap":false,"title":"Coefficient of Variation (%, IQR)","titleX":-29,"titleBaseline":"middle","labelFontSize":9.5,"titleFontSize":11}},
"y2":{"field":"q3"},
"fill":{"field":"grp","type":"nominal","scale":{"domain":["Device A only","Device A and B"],"range":["#050505","#6e6e6e"]},"legend":{"title":null,"orient":"none","legendX":189,"legendY":-11,"padding":0,"symbolType":"M-1,-0.64L1,-0.64L1,0.64L-1,0.64Z","symbolSize":484,"symbolStrokeWidth":0,"symbolOpacity":1,"labelFontSize":11,"labelColor":"#000","labelOffset":3,"rowPadding":-5}},
"stroke":{"field":"grp","type":"nominal","scale":{"domain":["Device A only","Device A and B"],"range":["#7d7d7d","#050505"]},"legend":null},
"strokeWidth":{"condition":{"test":"datum.grp === 'Device A only'","value":3},"value":2.5}}},
{"mark":{"type":"bar","fillOpacity":0,"strokeWidth":2},"encoding":{
"y":{"field":"med","type":"quantitative"},
"y2":{"field":"med"},
"stroke":{"field":"grp","type":"nominal","legend":null}}}
]}
],
"config":{
"view":{"stroke":null},
"font":"Liberation Sans",
"text":{"font":"Liberation Sans"},
"axis":{"grid":false,"domainColor":"#000","domainWidth":1,"tickColor":"#000","tickSize":4,"labelColor":"#000","labelFont":"Liberation Sans","labelFontSize":8,"labelFontWeight":"bold","labelPadding":2,"labelFlush":false,"labelOverlap":false,"titleColor":"#000","titleFont":"Liberation Sans","titleFontSize":8.3,"titleFontWeight":"bold","titlePadding":3},
"title":{"fontSize":14,"fontWeight":"bold","anchor":"start","frame":"group","baseline":"alphabetic","color":"#000","font":"Liberation Sans"}
}
}
